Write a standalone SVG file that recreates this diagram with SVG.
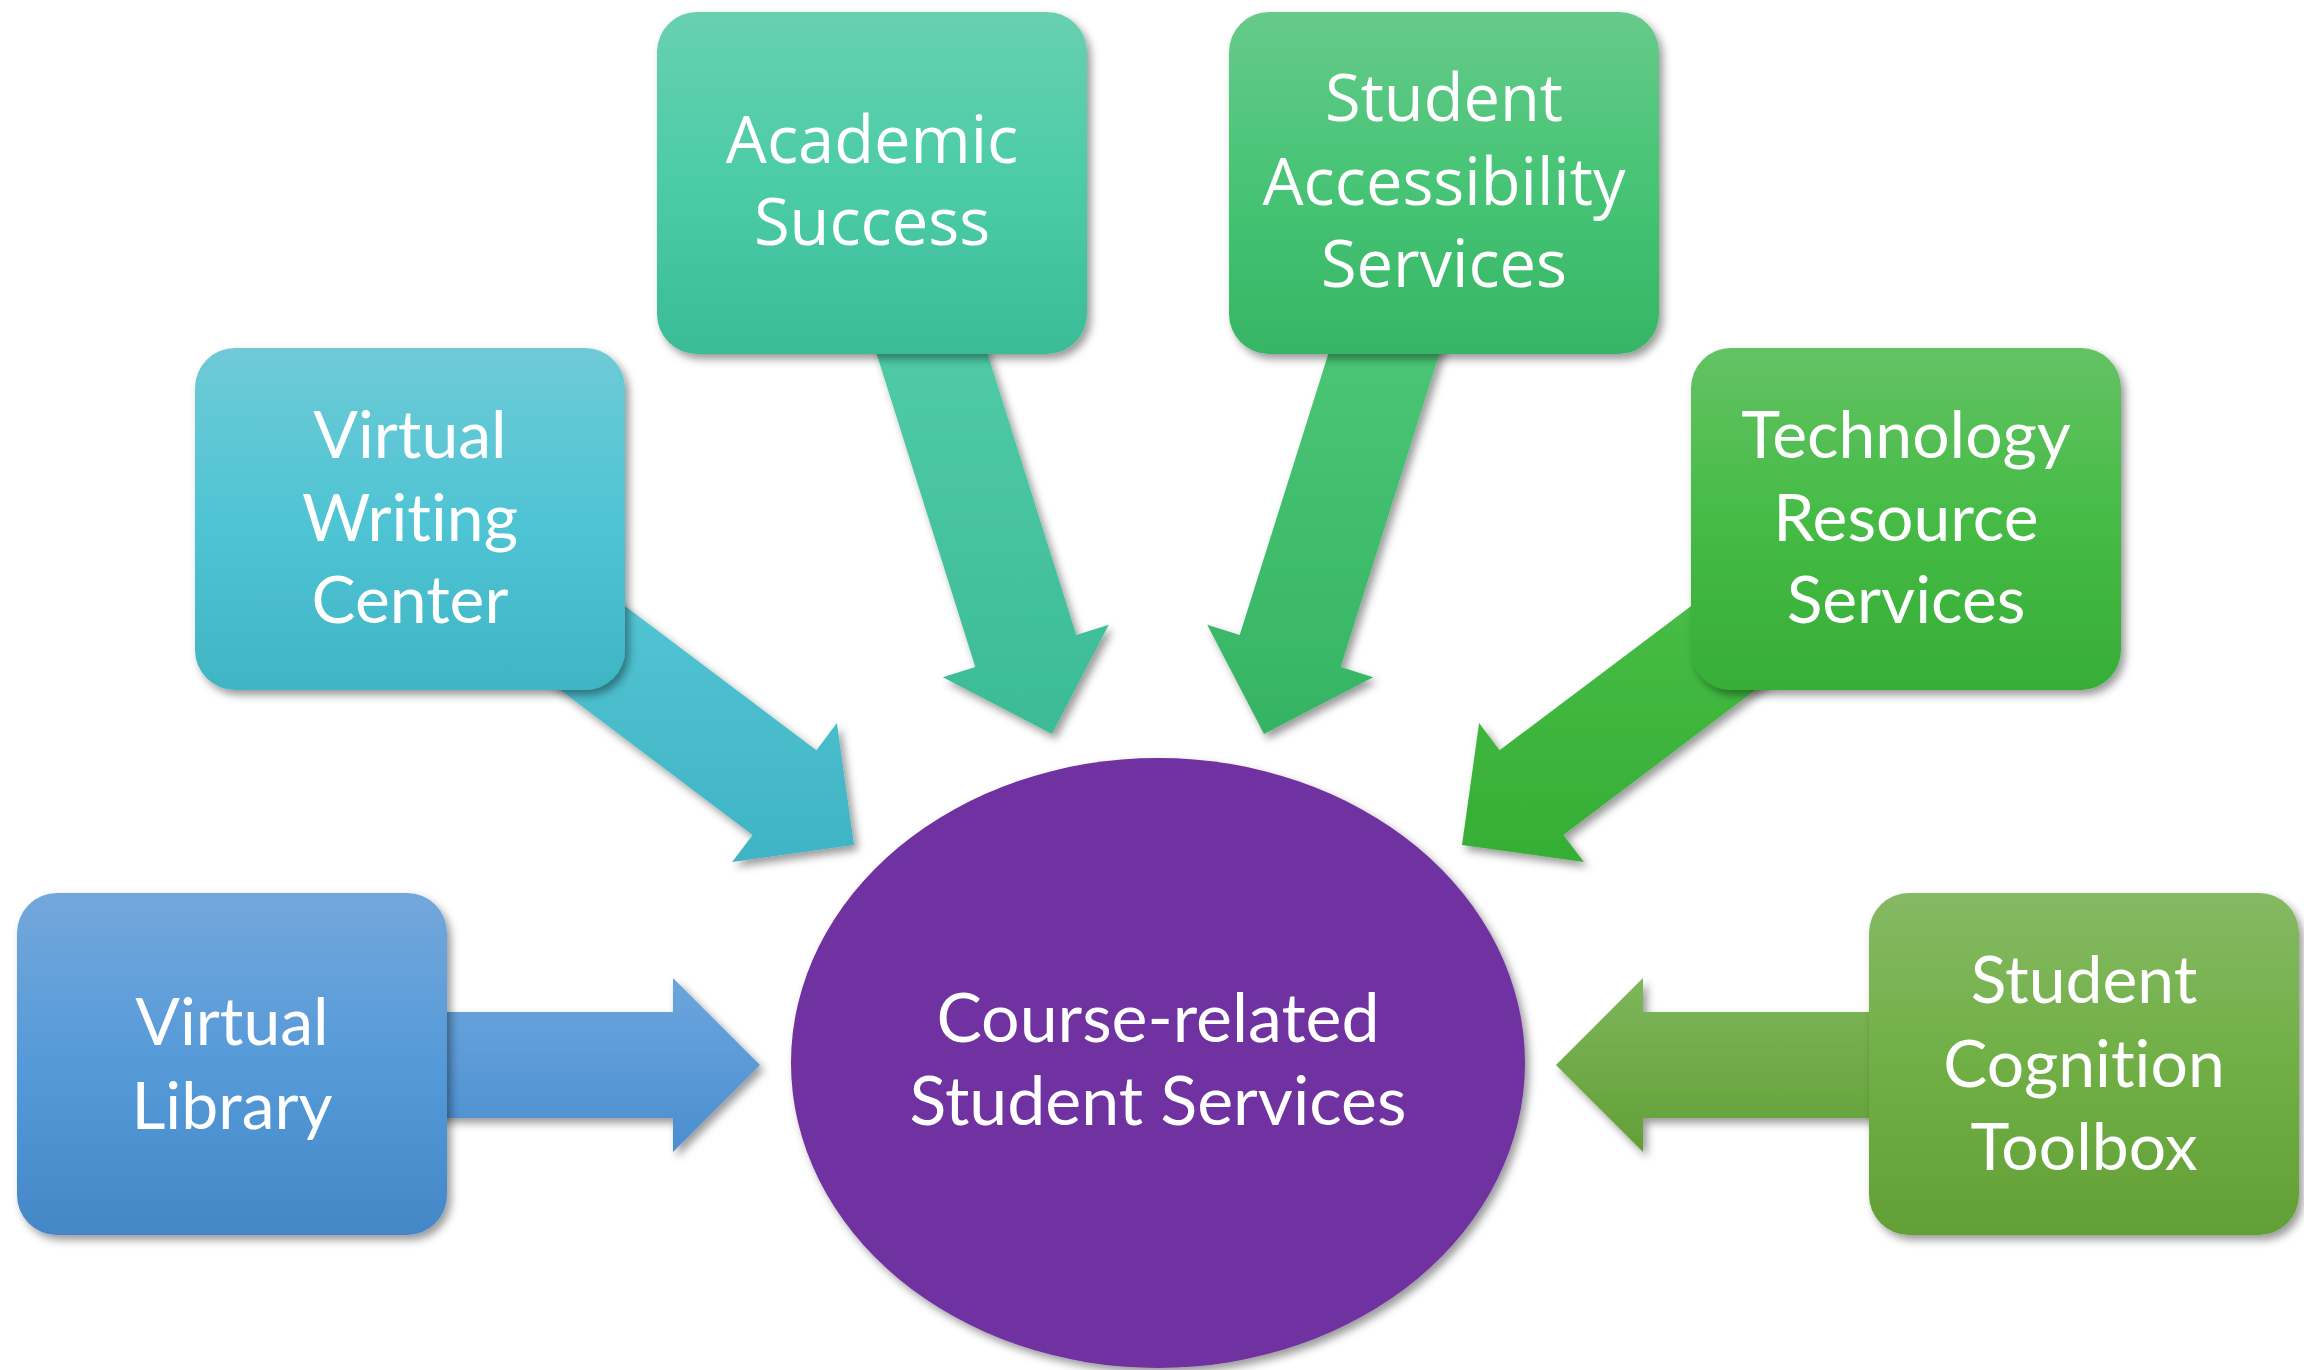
<svg xmlns="http://www.w3.org/2000/svg" width="2304" height="1370" viewBox="0 0 2304 1370">
<defs>
<filter id="sh" x="-10%" y="-10%" width="125%" height="125%">
<feDropShadow dx="4" dy="5" stdDeviation="4" flood-color="#000" flood-opacity="0.4"/>
</filter>
<linearGradient id="gVL" x1="0" y1="0" x2="0" y2="1"><stop offset="0" stop-color="#73A7DC"/><stop offset="0.5" stop-color="#559AD8"/><stop offset="1" stop-color="#4487C7"/></linearGradient>
<linearGradient id="gVW" x1="0" y1="0" x2="0" y2="1"><stop offset="0" stop-color="#6FCAD6"/><stop offset="0.5" stop-color="#4FC4D4"/><stop offset="1" stop-color="#40B5C4"/></linearGradient>
<linearGradient id="gAS" x1="0" y1="0" x2="0" y2="1"><stop offset="0" stop-color="#68D0B0"/><stop offset="0.5" stop-color="#4BCCA7"/><stop offset="1" stop-color="#3BBB98"/></linearGradient>
<linearGradient id="gSA" x1="0" y1="0" x2="0" y2="1"><stop offset="0" stop-color="#66CA8B"/><stop offset="0.5" stop-color="#47C475"/><stop offset="1" stop-color="#36B565"/></linearGradient>
<linearGradient id="gTR" x1="0" y1="0" x2="0" y2="1"><stop offset="0" stop-color="#64C264"/><stop offset="0.5" stop-color="#45BB45"/><stop offset="1" stop-color="#37AE37"/></linearGradient>
<linearGradient id="gSC" x1="0" y1="0" x2="0" y2="1"><stop offset="0" stop-color="#85B964"/><stop offset="0.5" stop-color="#70AF45"/><stop offset="1" stop-color="#62A036"/></linearGradient>
<linearGradient id="aVL" x1="0" y1="0" x2="0" y2="1"><stop offset="0" stop-color="#6CA5DD"/><stop offset="1" stop-color="#4A8ED0"/></linearGradient>
<linearGradient id="aVW" x1="0" y1="0" x2="0" y2="1"><stop offset="0" stop-color="#56C7D6"/><stop offset="1" stop-color="#3FB4C4"/></linearGradient>
<linearGradient id="aAS" x1="0" y1="0" x2="0" y2="1"><stop offset="0" stop-color="#52CDA9"/><stop offset="1" stop-color="#3BBB96"/></linearGradient>
<linearGradient id="aSA" x1="0" y1="0" x2="0" y2="1"><stop offset="0" stop-color="#4DC877"/><stop offset="1" stop-color="#35B463"/></linearGradient>
<linearGradient id="aTR" x1="0" y1="0" x2="0" y2="1"><stop offset="0" stop-color="#4BBF48"/><stop offset="1" stop-color="#35AE35"/></linearGradient>
<linearGradient id="aSC" x1="0" y1="0" x2="0" y2="1"><stop offset="0" stop-color="#7EB65A"/><stop offset="1" stop-color="#62A037"/></linearGradient>
</defs>
<style>
.box{filter:url(#sh)}
.arr{filter:url(#sh)}
.t{font-family:Lato,"Liberation Sans",sans-serif;font-size:66px;fill:#fff;text-anchor:middle;font-variant-ligatures:none;font-feature-settings:"liga" 0}
.c{font-size:68px}
.o{font-family:"Open Sans","Noto Sans",sans-serif;font-size:65px;fill:#fff;text-anchor:middle}
</style>
<rect width="2304" height="1370" fill="#fff"/>
<g id="connectors">
<polygon class="arr" fill="url(#aVL)" points="400,1012 673,1012 673,978 760,1065 673,1152 673,1118 400,1118"/>
<polygon class="arr" fill="url(#aSC)" points="1916,1012 1643,1012 1643,978 1556,1065 1643,1152 1643,1118 1916,1118"/>
<polygon class="arr" fill="url(#aVW)" points="550.5,549.9 816.4,750.3 836.9,723.1 854,845 732.1,862.1 752.6,834.9 486.7,634.5"/>
<polygon class="arr" fill="url(#aTR)" points="1765.5,549.9 1499.6,750.3 1479.1,723.1 1462,845 1583.9,862.1 1563.4,834.9 1829.3,634.5"/>
<polygon class="arr" fill="url(#aAS)" points="967.2,288.9 1076.3,635.1 1108.8,624.8 1052,734 942.8,677.2 975.3,666.9 866.2,320.7"/>
<polygon class="arr" fill="url(#aSA)" points="1348.8,288.9 1239.7,635.1 1207.2,624.8 1264,734 1373.2,677.2 1340.7,666.9 1449.8,320.7"/>
</g>
<g id="center">
<ellipse class="box" cx="1158" cy="1063" rx="367" ry="305" fill="#7030A0"/>
<text class="t c" x="1158" y="1042">Course-related</text>
<text class="t c" x="1158" y="1125">Student Services</text>
</g>
<g id="virtual-library">
<rect class="box" x="17" y="893" width="430" height="342" rx="40" fill="url(#gVL)"/>
<text class="t" x="232" y="1045">Virtual</text>
<text class="t" x="232" y="1129">Library</text>
</g>
<g id="virtual-writing-center">
<rect class="box" x="195" y="348" width="430" height="342" rx="40" fill="url(#gVW)"/>
<text class="t" x="410" y="458">Virtual</text>
<text class="t" x="410" y="541">Writing</text>
<text class="t" x="410" y="623">Center</text>
</g>
<g id="academic-success">
<rect class="box" x="657" y="12" width="430" height="342" rx="40" fill="url(#gAS)"/>
<text class="o" x="872" y="163">Academic</text>
<text class="o" x="872" y="245">Success</text>
</g>
<g id="student-accessibility-services">
<rect class="box" x="1229" y="12" width="430" height="342" rx="40" fill="url(#gSA)"/>
<text class="o" x="1444" y="121">Student</text>
<text class="o" x="1444" y="205">Accessibility</text>
<text class="o" x="1444" y="287">Services</text>
</g>
<g id="technology-resource-services">
<rect class="box" x="1691" y="348" width="430" height="342" rx="40" fill="url(#gTR)"/>
<text class="t" x="1906" y="458">Technology</text>
<text class="t" x="1906" y="541">Resource</text>
<text class="t" x="1906" y="623">Services</text>
</g>
<g id="student-cognition-toolbox">
<rect class="box" x="1869" y="893" width="430" height="342" rx="40" fill="url(#gSC)"/>
<text class="t" x="2084" y="1003">Student</text>
<text class="t" x="2084" y="1087">Cognition</text>
<text class="t" x="2084" y="1170">Toolbox</text>
</g>
</svg>
